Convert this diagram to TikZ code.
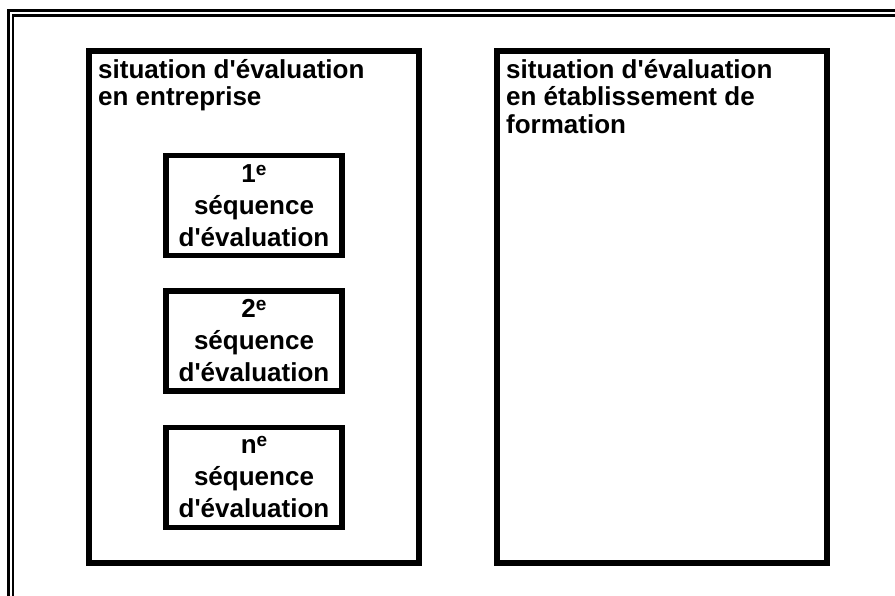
\documentclass[tikz,border=0pt]{standalone}
\usepackage{fontspec}
\setmainfont{Liberation Sans}
\newcommand{\apo}{\textquotesingle}
\newcommand{\expo}[1]{\raisebox{7pt}{\fontsize{19}{19}\selectfont #1}}

\begin{document}
\begin{tikzpicture}[x=1pt, y=-1pt]
	\tikzset{cadre/.style={line width=2.6pt, double, double distance=2pt},
		grande boite/.style={draw, line width=6pt, minimum width=330pt, minimum height=512pt, inner sep=0pt},
		sequence/.style={draw, line width=5.6pt, minimum width=176pt, minimum height=100pt, inner sep=0pt,
			align=center, font=\bfseries\fontsize{26}{32}\selectfont},
		titre/.style={anchor=north west, inner sep=0pt, align=left, font=\bfseries\fontsize{26}{27.5}\selectfont}}
	\useasboundingbox (0, 0) rectangle (895, 596);
	% \draw (0, 0) grid (895, 596);
	\draw [cadre] (10.5, 13) rectangle (920, 620);
	\node [grande boite] (entreprise) at (254, 307) {};
	\node [grande boite] (formation) at (662, 307) {};
	\node [titre] (titre1) at (98, 59) {situation d\apo évaluation\\en entreprise};
	\node [titre] (titre2) at (506, 59) {situation d\apo évaluation\\en établissement de\\formation};
	\node [sequence] (seq1) at (254, 205.5) {1\expo{e}\\séquence\\d\apo évaluation};
	\node [sequence] (seq2) at (254, 341) {2\expo{e}\\séquence\\d\apo évaluation};
	\node [sequence] (seqn) at (254, 477.5) {n\expo{e}\\séquence\\d\apo évaluation};
\end{tikzpicture}
\end{document}
